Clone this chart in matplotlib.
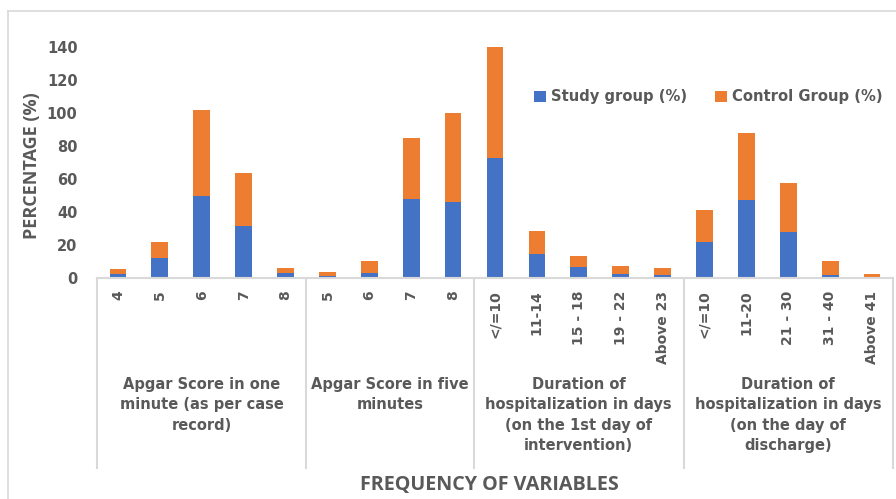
import matplotlib.pyplot as plt
from matplotlib.lines import Line2D
import numpy as np

# Data
categories = ['4', '5', '6', '7', '8',
              '5', '6', '7', '8',
              '</=10', '11-14', '15 - 18', '19 - 22', 'Above 23',
              '</=10', '11-20', '21 - 30', '31 - 40', 'Above 41']
study = [2.5, 12, 50, 31.5, 3,
         1.5, 3, 48, 46,
         73, 14.5, 6.7, 2.4, 1.6,
         22, 47, 28, 1.6, 0.5]
control = [2.8, 10, 52, 32, 3.2,
           2, 7.5, 37, 54,
           67, 14, 6.5, 4.7, 4.7,
           19, 41, 29.5, 8.5, 2]
group_names = ['Apgar Score in one\nminute (as per case\nrecord)',
               'Apgar Score in five\nminutes',
               'Duration of\nhospitalization in days\n(on the 1st day of\nintervention)',
               'Duration of\nhospitalization in days\n(on the day of\ndischarge)']
group_sizes = [5, 4, 5, 5]

W, H = 896, 499
text_col = '#595959'
grid_col = '#d9d9d9'
blue = '#4472C4'
orange = '#ED7D31'

fig = plt.figure(figsize=(W / 100, H / 100), dpi=100)
ax = fig.add_axes([97 / W, 1 - 278 / H, (893 - 97) / W, (278 - 47) / H])

x = np.arange(len(categories))
ax.bar(x, study, width=0.4, color=blue, label='Study group (%)', zorder=2)
ax.bar(x, control, width=0.4, bottom=study, color=orange, label='Control Group (%)', zorder=2)

ax.set_xlim(-0.5, len(categories) - 0.5)
ax.set_ylim(0, 140)
ax.set_yticks(range(0, 141, 20))
ax.tick_params(axis='y', length=0, pad=14, labelsize=10.5, labelcolor=text_col)
ax.set_xticks(x, categories, rotation=90, va='top')
ax.tick_params(axis='x', length=0, pad=9, labelsize=10, labelcolor=text_col)
for lbl in ax.get_xticklabels() + ax.get_yticklabels():
    lbl.set_fontweight('bold')

for s in ['top', 'right', 'left']:
    ax.spines[s].set_visible(False)
ax.spines['bottom'].set_color(grid_col)
ax.spines['bottom'].set_linewidth(1.5)

# group dividers and labels
trans = ax.get_xaxis_transform()
bottom_y = -(468 - 278) / (278 - 47)
edges = np.concatenate([[0], np.cumsum(group_sizes)]) - 0.5
for e in edges:
    ax.plot([e, e], [0, bottom_y], transform=trans, color=grid_col, lw=1.5, clip_on=False)
for i, name in enumerate(group_names):
    cx = (edges[i] + edges[i + 1]) / 2
    ax.text(cx, -(377 - 278) / (278 - 47), name, transform=trans, ha='center', va='top',
            fontsize=10.5, fontweight='bold', color=text_col, linespacing=1.45)

# axis titles
fig.text(32 / W, 1 - 166 / H, 'PERCENTAGE (%)', rotation=90, ha='center', va='center',
         fontsize=13, fontweight='bold', color=text_col, family='Open Sans')
fig.text(489 / W, 1 - 485 / H, 'FREQUENCY OF VARIABLES', ha='center', va='center',
         fontsize=14.2, fontweight='bold', color=text_col, family='Open Sans')

leg = ax.legend(loc='center left', bbox_to_anchor=(521 / W, 1 - 97 / H), bbox_transform=fig.transFigure,
                ncol=2, frameon=False, handlelength=0.8, handleheight=0.8, handletextpad=0.35,
                columnspacing=1.9, prop={'weight': 'bold', 'size': 10.6})
for t in leg.get_texts():
    t.set_color(text_col)

# chart border
fig.add_artist(Line2D([8 / W, 8 / W], [0, 1 - 11 / H], color=grid_col, lw=1.2))
fig.add_artist(Line2D([8 / W, 1], [1 - 11 / H, 1 - 11 / H], color=grid_col, lw=1.2))

fig.savefig('out.png', dpi=100)
